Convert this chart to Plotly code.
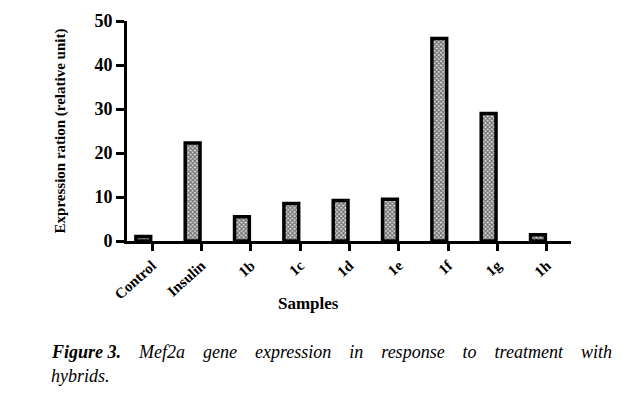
import plotly.graph_objects as go

categories = ["Control", "Insulin", "1b", "1c", "1d", "1e", "1f", "1g", "1h"]
values = [1.0, 22.3, 5.5, 8.5, 9.2, 9.5, 46.0, 29.0, 1.4]
y_ticks = [0, 10, 20, 30, 40, 50]

xpos = list(range(len(categories)))
tickpos = [i + 0.18 for i in xpos]

fig = go.Figure()
fig.add_trace(go.Bar(
    x=xpos, y=values, width=0.3,
    marker=dict(color="white",
                line=dict(color="black", width=3.5),
                pattern=dict(shape="x", size=3, solidity=0.6, fgcolor="black", bgcolor="#dddddd")),
    showlegend=False,
))

serif = "Liberation Serif, Times New Roman, serif"
fig.update_layout(
    width=629, height=404,
    margin=dict(l=119, r=66, t=13, b=171),
    paper_bgcolor="white", plot_bgcolor="white",
    font=dict(family=serif, color="black"),
    xaxis=dict(range=[-0.33, 8.67], tickmode="array", tickvals=tickpos, ticktext=categories,
               tickangle=-42, ticks="outside", ticklen=7, tickwidth=3, tickcolor="black",
               showline=True, linecolor="black", linewidth=3, showgrid=False, zeroline=False,
               automargin=False,
               tickfont=dict(family=serif, size=15, color="black", weight="bold")),
    yaxis=dict(range=[0, 50], tickvals=y_ticks, ticks="outside", ticklen=8, tickwidth=3,
               tickcolor="black", showline=True, linecolor="black", linewidth=3,
               showgrid=False, zeroline=False, automargin=False,
               tickfont=dict(family=serif, size=18, color="black", weight="bold"),
               title=dict(text="<b>Expression ration (relative unit)</b>",
                          font=dict(family=serif, size=15), standoff=26)),
)

fig.add_annotation(xref="paper", yref="paper", x=0.408, y=-0.282, xanchor="center", yanchor="middle",
                   text="<b>Samples</b>", showarrow=False,
                   font=dict(family=serif, size=17, color="black"))

sp = "\u2002\u2002"
line1 = ("<b><i>Figure 3.</i></b>" + sp + "<i>" + sp.join(
    ["Mef2a", "gene", "expression", "in", "response", "to", "treatment", "with"]) + "</i>")
fig.add_annotation(xref="paper", yref="paper", x=-0.175, y=-0.505, xanchor="left", yanchor="middle",
                   text=line1, showarrow=False, font=dict(family=serif, size=18, color="black"))
fig.add_annotation(xref="paper", yref="paper", x=-0.175, y=-0.615, xanchor="left", yanchor="middle",
                   text="<i>hybrids.</i>",
                   showarrow=False, font=dict(family=serif, size=18, color="black"))

fig.write_html("out.html")
